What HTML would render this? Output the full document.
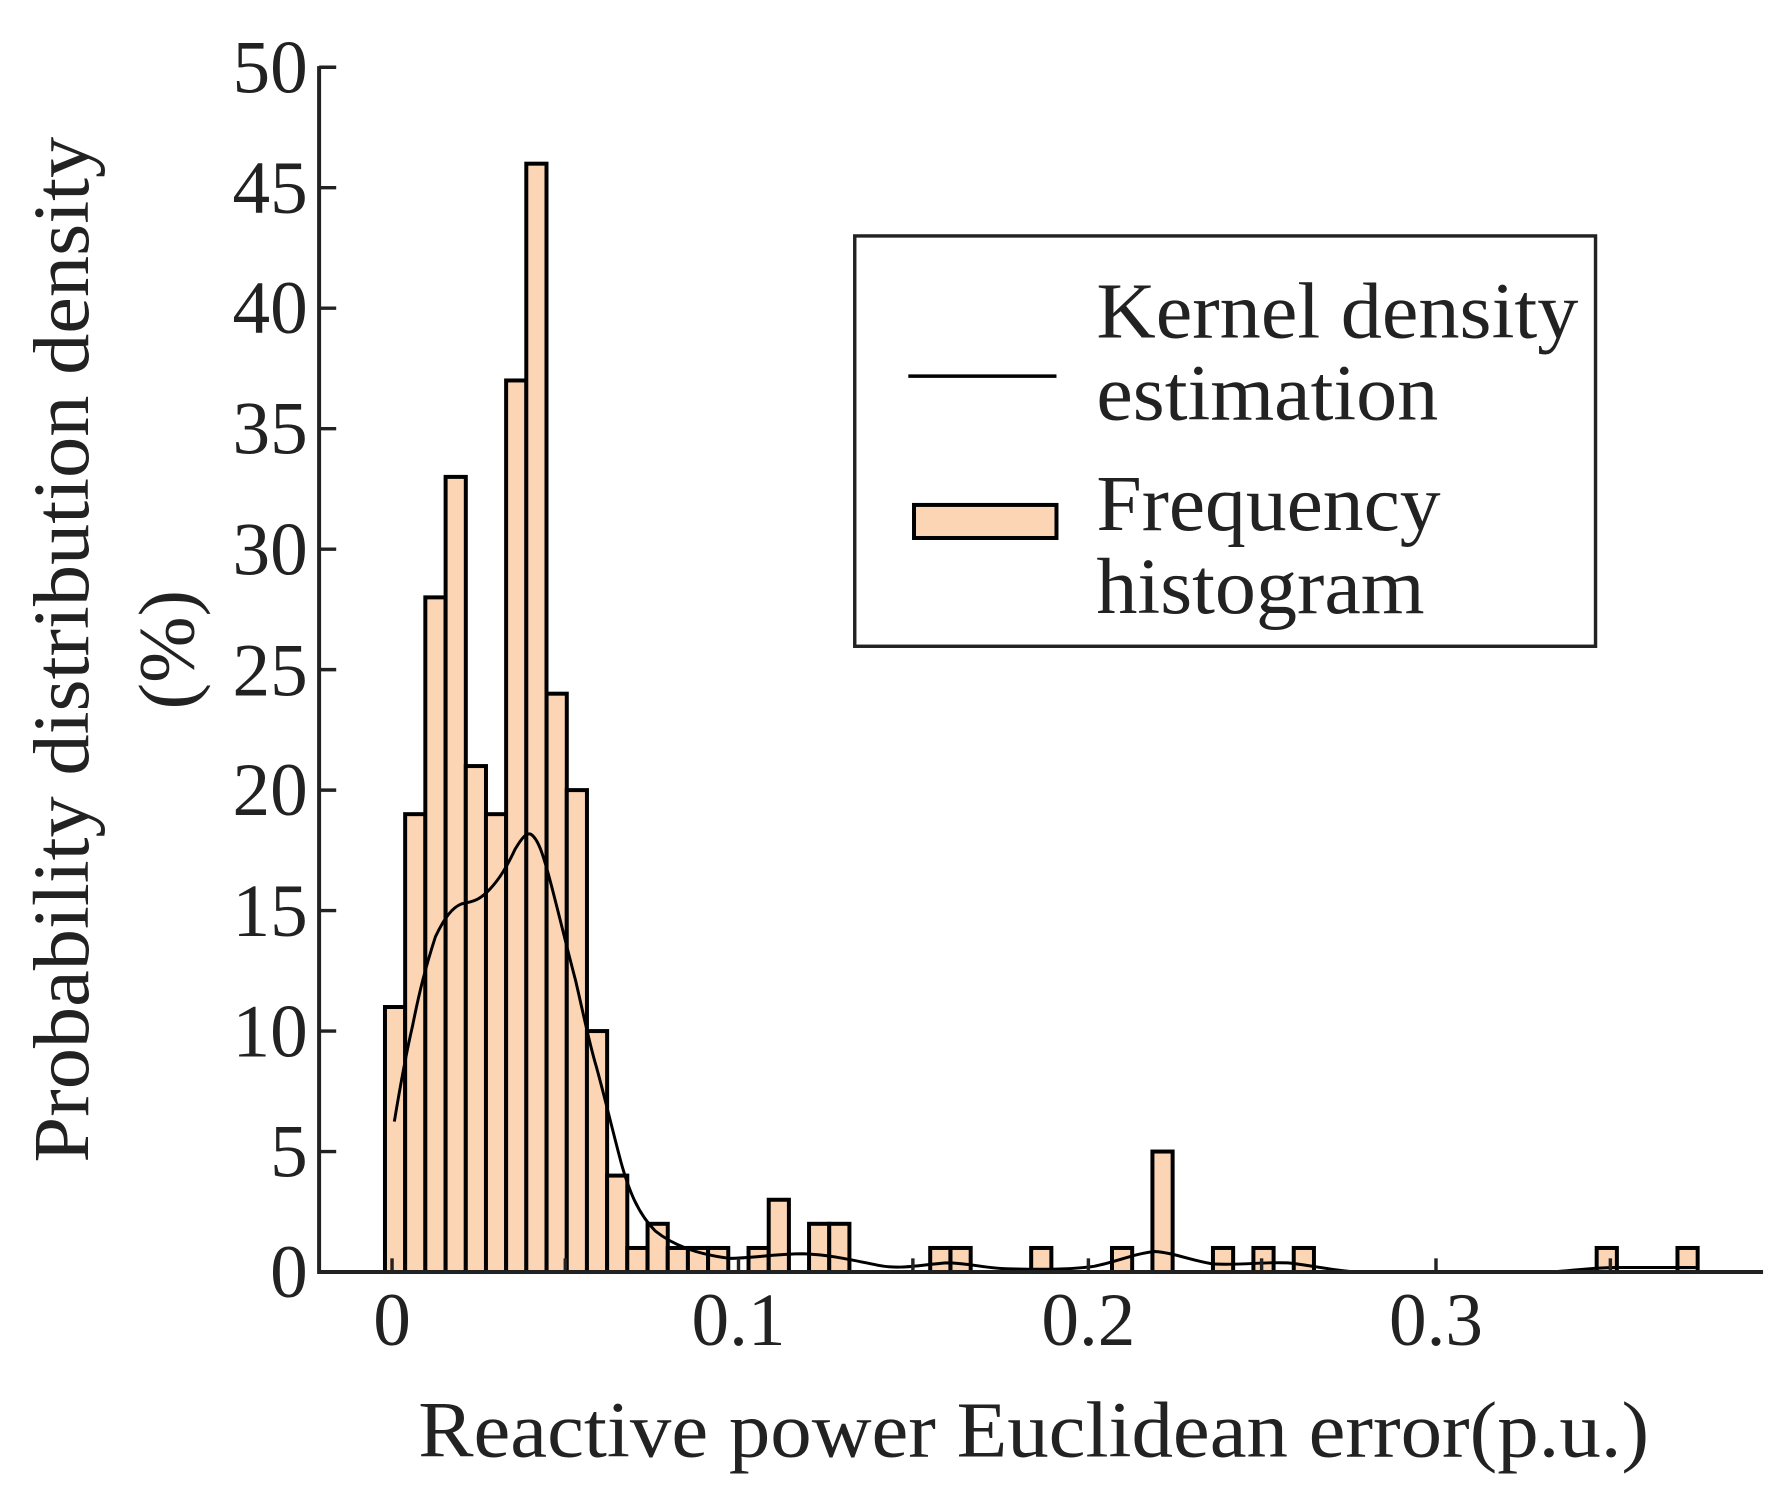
<!DOCTYPE html>
<html><head><meta charset="utf-8"><style>
html,body{margin:0;padding:0;background:#fff;}
svg{display:block;}
text{font-family:"Liberation Serif",serif;fill:#222;}
</style></head><body>
<svg width="1787" height="1492" viewBox="0 0 1568 1309" preserveAspectRatio="none" xmlns="http://www.w3.org/2000/svg">
<g fill="#fcd5b5" stroke="#000" stroke-width="3.5">
<rect x="337.8" y="883.5" width="17.72" height="232.5"/>
<rect x="355.5" y="714.3" width="17.72" height="401.7"/>
<rect x="373.2" y="524.1" width="17.72" height="591.9"/>
<rect x="391.0" y="418.4" width="17.72" height="697.6"/>
<rect x="408.7" y="672.1" width="17.72" height="443.9"/>
<rect x="426.4" y="714.3" width="17.72" height="401.7"/>
<rect x="444.1" y="333.8" width="17.72" height="782.2"/>
<rect x="461.8" y="143.6" width="17.72" height="972.4"/>
<rect x="479.6" y="608.6" width="17.72" height="507.4"/>
<rect x="497.3" y="693.2" width="17.72" height="422.8"/>
<rect x="515.0" y="904.6" width="17.72" height="211.4"/>
<rect x="532.7" y="1031.4" width="17.72" height="84.6"/>
<rect x="550.4" y="1094.9" width="17.72" height="21.1"/>
<rect x="568.2" y="1073.7" width="17.72" height="42.3"/>
<rect x="585.9" y="1094.9" width="17.72" height="21.1"/>
<rect x="603.6" y="1094.9" width="17.72" height="21.1"/>
<rect x="621.3" y="1094.9" width="17.72" height="21.1"/>
<rect x="656.8" y="1094.9" width="17.72" height="21.1"/>
<rect x="674.5" y="1052.6" width="17.72" height="63.4"/>
<rect x="709.9" y="1073.7" width="17.72" height="42.3"/>
<rect x="727.6" y="1073.7" width="17.72" height="42.3"/>
<rect x="816.2" y="1094.9" width="17.72" height="21.1"/>
<rect x="834.0" y="1094.9" width="17.72" height="21.1"/>
<rect x="904.8" y="1094.9" width="17.72" height="21.1"/>
<rect x="975.7" y="1094.9" width="17.72" height="21.1"/>
<rect x="1011.2" y="1010.3" width="17.72" height="105.7"/>
<rect x="1064.3" y="1094.9" width="17.72" height="21.1"/>
<rect x="1099.8" y="1094.9" width="17.72" height="21.1"/>
<rect x="1135.2" y="1094.9" width="17.72" height="21.1"/>
<rect x="1401.0" y="1094.9" width="17.72" height="21.1"/>
<rect x="1471.9" y="1094.9" width="17.72" height="21.1"/>
</g>
<path fill="none" stroke="#000" stroke-width="2.6" d="M346,984 C350,960 355,930 362,900 C368,870 373,850 382,822 C390,805 397,796 405,793 C415,791 420,790 428,782 C438,772 445,760 452,745 C458,735 462,730 466,732 C472,736 476,748 482,770 C490,800 497,830 505,860 C512,890 517,915 523,935 C530,960 537,990 545,1020 C552,1045 560,1065 575,1080 C590,1092 610,1100 640,1104 C660,1104 680,1100 705,1100 C730,1101 750,1106 770,1110 C790,1114 805,1110 830,1108 C850,1108 860,1112 880,1113 C910,1114 940,1114 960,1111 C980,1107 995,1100 1013,1098 C1030,1099 1045,1106 1065,1109 C1090,1110 1110,1107 1130,1108 C1150,1110 1165,1114 1190,1116 L1360,1116 C1380,1115 1395,1112 1420,1112 L1488,1112"/>
<path d="M280,58 L280,1116 L1547,1116" stroke="#222" stroke-width="3.5" fill="none"/>
<g stroke="#222" stroke-width="3">
<line x1="280" y1="1116" x2="295" y2="1116"/><line x1="280" y1="1010.3" x2="295" y2="1010.3"/>
<line x1="280" y1="904.6" x2="295" y2="904.6"/><line x1="280" y1="798.9" x2="295" y2="798.9"/>
<line x1="280" y1="693.2" x2="295" y2="693.2"/><line x1="280" y1="587.5" x2="295" y2="587.5"/>
<line x1="280" y1="481.8" x2="295" y2="481.8"/><line x1="280" y1="376.1" x2="295" y2="376.1"/>
<line x1="280" y1="270.4" x2="295" y2="270.4"/><line x1="280" y1="164.7" x2="295" y2="164.7"/>
<line x1="280" y1="59" x2="295" y2="59"/>
<line x1="344" y1="1116" x2="344" y2="1104"/><line x1="496" y1="1116" x2="496" y2="1104"/>
<line x1="648" y1="1116" x2="648" y2="1104"/><line x1="801" y1="1116" x2="801" y2="1104"/>
<line x1="955" y1="1116" x2="955" y2="1104"/><line x1="1107" y1="1116" x2="1107" y2="1104"/>
<line x1="1260" y1="1116" x2="1260" y2="1104"/><line x1="1413" y1="1116" x2="1413" y2="1104"/>
</g>
<g font-size="66" text-anchor="end">
<text x="270" y="1138">0</text><text x="270" y="1032">5</text>
<text x="270" y="927">10</text><text x="270" y="821">15</text>
<text x="270" y="715">20</text><text x="270" y="610">25</text>
<text x="270" y="504">30</text><text x="270" y="398">35</text>
<text x="270" y="292">40</text><text x="270" y="187">45</text>
<text x="270" y="81">50</text>
</g>
<g font-size="66" text-anchor="middle">
<text x="344" y="1180">0</text>
<text x="648" y="1180">0.1</text>
<text x="955" y="1180">0.2</text>
<text x="1260" y="1180">0.3</text>
</g>
<text x="367" y="1278" font-size="70" textLength="1080" lengthAdjust="spacingAndGlyphs">Reactive power Euclidean error(p.u.)</text>
<text transform="translate(77,1020) rotate(-90)" font-size="70" textLength="900" lengthAdjust="spacingAndGlyphs">Probability distribution density</text>
<text transform="translate(170,570) rotate(-90)" font-size="70" text-anchor="middle">(%)</text>
<rect x="750" y="207" width="650" height="360" fill="#fff" stroke="#222" stroke-width="3"/>
<line x1="797" y1="330" x2="927" y2="330" stroke="#000" stroke-width="3"/>
<rect x="802" y="443" width="125" height="29" fill="#fcd5b5" stroke="#000" stroke-width="3.5"/>
<g font-size="70">
<text x="962" y="296" textLength="423" lengthAdjust="spacingAndGlyphs">Kernel density</text>
<text x="962" y="368" textLength="300" lengthAdjust="spacingAndGlyphs">estimation</text>
<text x="962" y="465" textLength="302" lengthAdjust="spacingAndGlyphs">Frequency</text>
<text x="962" y="538" textLength="288" lengthAdjust="spacingAndGlyphs">histogram</text>
</g>
</svg>
</body></html>
